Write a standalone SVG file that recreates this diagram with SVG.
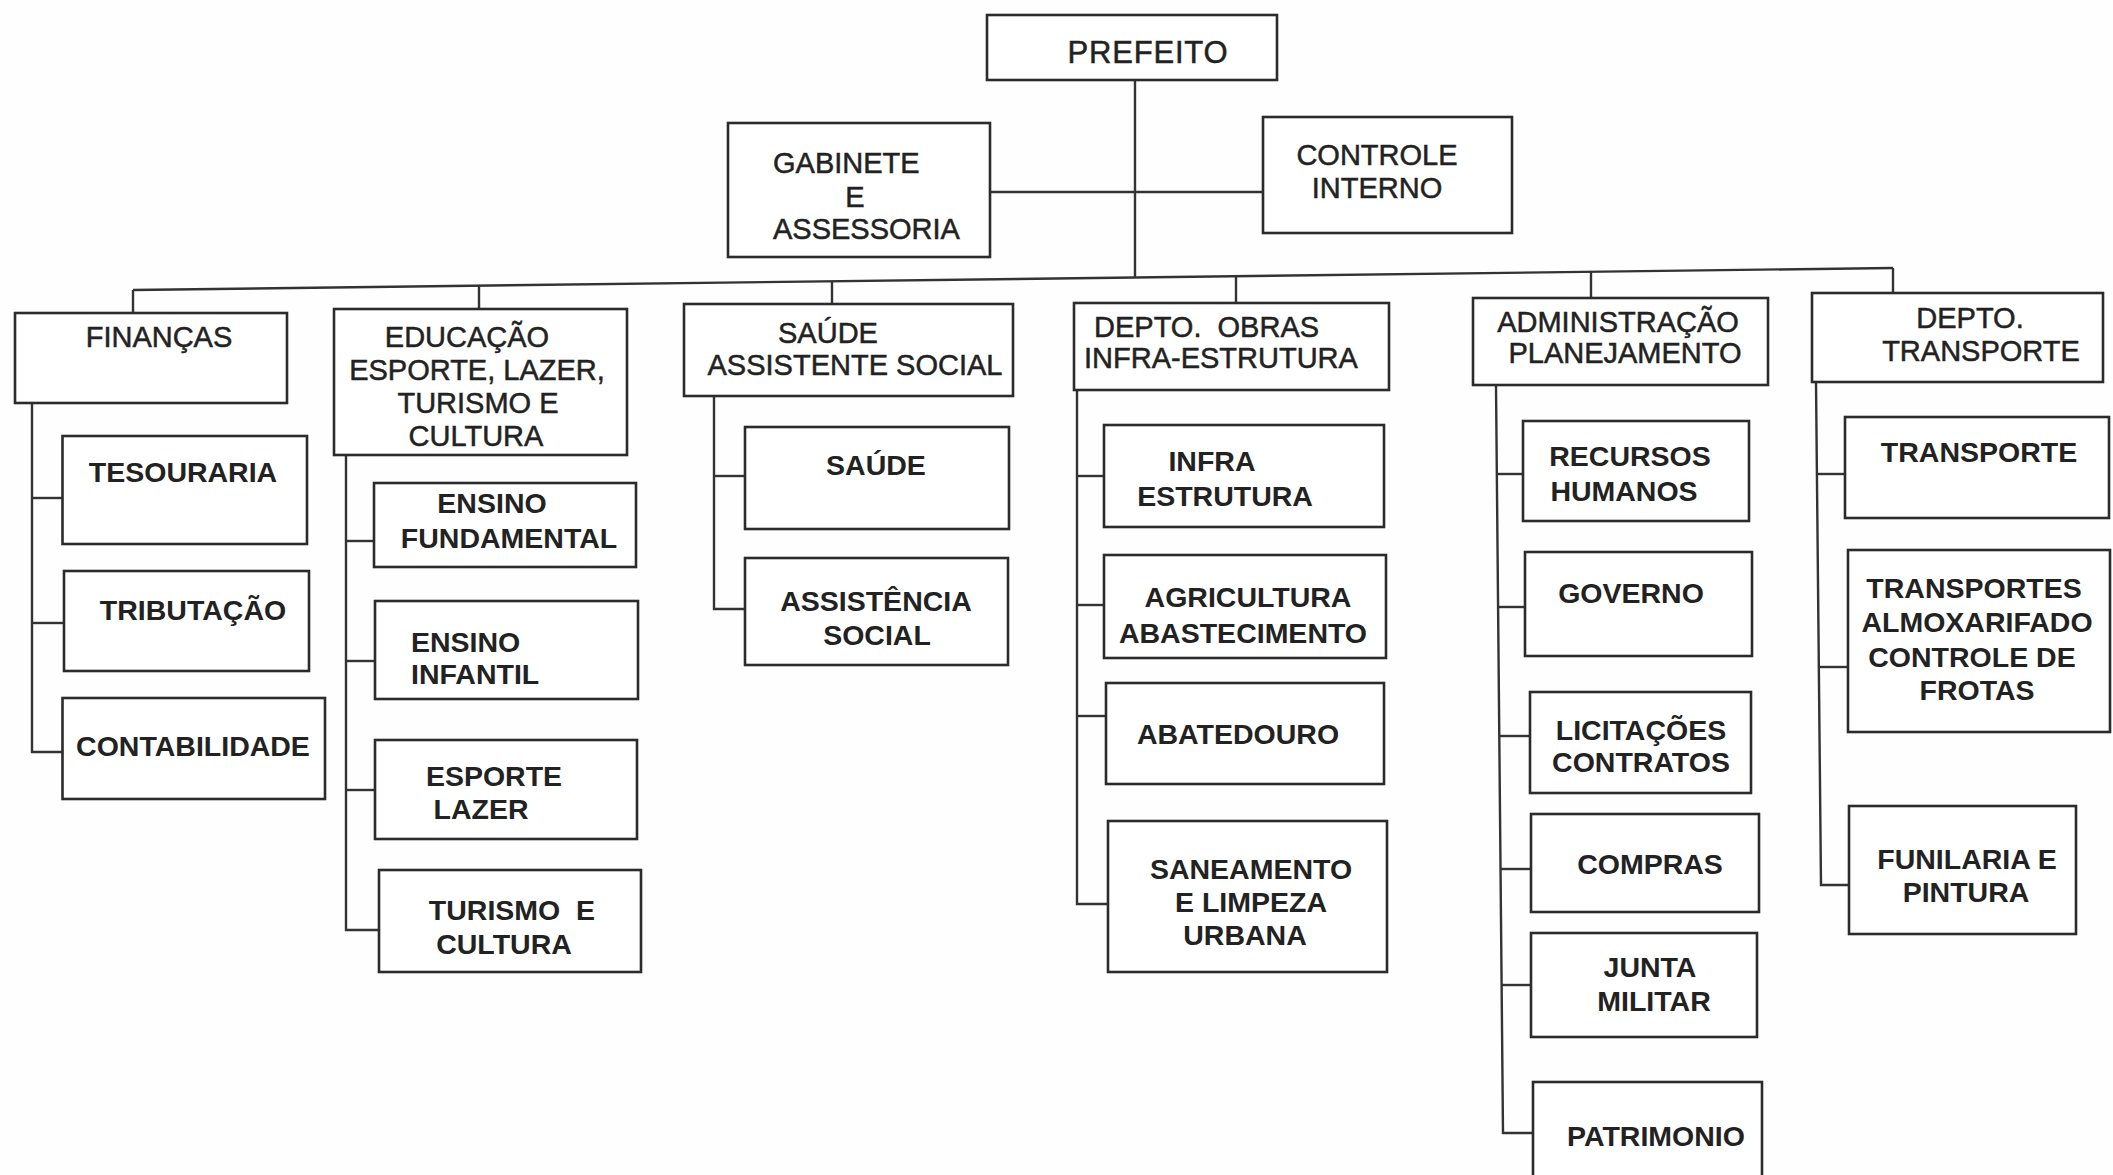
<svg xmlns="http://www.w3.org/2000/svg" width="2113" height="1175" viewBox="0 0 2113 1175">
<style>
.bg{fill:#fefefe}
rect.box{fill:#ffffff;stroke:#2b2b2b;stroke-width:2.6}
.c line,.c polyline{stroke:#333333;stroke-width:2.4;fill:none}
text{font-family:"Liberation Sans",Arial,sans-serif;font-size:29px;fill:#222222;stroke:#222222;stroke-width:0.5}
text.b{font-weight:bold;font-size:28.5px;stroke:none}
.m{text-anchor:middle}
</style>
<rect class="bg" x="0" y="0" width="2113" height="1175"/>
<g id="connectors" class="c">
  <line x1="1135" y1="80" x2="1135" y2="277.5"/>
  <line x1="990" y1="192" x2="1263" y2="192"/>
  <line x1="133" y1="290" x2="1893" y2="268"/>
  <line x1="133" y1="290" x2="133" y2="313"/>
  <line x1="479" y1="285.7" x2="479" y2="309"/>
  <line x1="832" y1="281.3" x2="832" y2="304"/>
  <line x1="1236" y1="276.2" x2="1236" y2="303"/>
  <line x1="1591" y1="271.8" x2="1591" y2="298"/>
  <line x1="1893" y1="268" x2="1893" y2="293"/>
  <!-- Finanças -->
  <polyline points="32,403 32,752 62.5,752"/>
  <line x1="32" y1="498" x2="62.5" y2="498"/>
  <line x1="32" y1="623" x2="64" y2="623"/>
  <!-- Educação -->
  <polyline points="346,455 346,930 379,930"/>
  <line x1="346" y1="541" x2="374" y2="541"/>
  <line x1="346" y1="661" x2="375" y2="661"/>
  <line x1="346" y1="790" x2="375" y2="790"/>
  <!-- Saúde -->
  <polyline points="714,396 714,609 745,609"/>
  <line x1="714" y1="476" x2="745" y2="476"/>
  <!-- Obras -->
  <polyline points="1077,390 1077,904 1108,904"/>
  <line x1="1077" y1="476" x2="1104" y2="476"/>
  <line x1="1077" y1="605" x2="1104" y2="605"/>
  <line x1="1077" y1="716" x2="1106" y2="716"/>
  <!-- Administração -->
  <polyline points="1496,385 1503,1133 1533,1133"/>
  <line x1="1497" y1="474" x2="1523" y2="474"/>
  <line x1="1498" y1="607" x2="1525" y2="607"/>
  <line x1="1499" y1="736" x2="1530" y2="736"/>
  <line x1="1501" y1="869" x2="1531" y2="869"/>
  <line x1="1502" y1="985" x2="1531" y2="985"/>
  <!-- Transporte -->
  <polyline points="1816,382 1821,885 1849,885"/>
  <line x1="1817" y1="474" x2="1845" y2="474"/>
  <line x1="1819" y1="667" x2="1848" y2="667"/>
</g>

<g id="prefeito"><rect class="box" x="987" y="15" width="290" height="65"/><text class="m" x="1148" y="63" style="font-size:31px;letter-spacing:0.8px">PREFEITO</text></g>
<g id="gabinete"><rect class="box" x="728" y="123" width="262" height="134"/>
  <text x="773" y="173">GABINETE</text><text class="m" x="855" y="207">E</text><text x="773" y="239">ASSESSORIA</text></g>
<g id="controle-interno"><rect class="box" x="1263" y="117" width="249" height="116"/>
  <text class="m" x="1377" y="165">CONTROLE</text><text class="m" x="1377" y="198">INTERNO</text></g>

<g id="financas"><rect class="box" x="15" y="313" width="272" height="90"/><text class="m" x="159" y="347">FINANÇAS</text></g>
<g id="educacao"><rect class="box" x="334" y="309" width="293" height="146"/>
  <text class="m" x="467" y="347">EDUCAÇÃO</text><text class="m" x="477" y="380">ESPORTE, LAZER,</text>
  <text class="m" x="478" y="413">TURISMO E</text><text class="m" x="476" y="446">CULTURA</text></g>
<g id="saude-assistente"><rect class="box" x="684" y="304" width="329" height="92"/>
  <text class="m" x="828" y="343">SAÚDE</text><text class="m" x="855" y="375">ASSISTENTE SOCIAL</text></g>
<g id="obras"><rect class="box" x="1074" y="303" width="315" height="87"/>
  <text x="1094" y="337" xml:space="preserve">DEPTO.  OBRAS</text><text x="1084" y="368">INFRA-ESTRUTURA</text></g>
<g id="administracao"><rect class="box" x="1473" y="298" width="295" height="87"/>
  <text class="m" x="1618" y="332">ADMINISTRAÇÃO</text><text class="m" x="1625" y="363">PLANEJAMENTO</text></g>
<g id="transporte-depto"><rect class="box" x="1812" y="293" width="291" height="89"/>
  <text class="m" x="1970" y="328">DEPTO.</text><text class="m" x="1981" y="361">TRANSPORTE</text></g>

<g id="tesouraria"><rect class="box" x="62.5" y="436" width="244.5" height="108"/><text class="b m" x="183" y="482">TESOURARIA</text></g>
<g id="tributacao"><rect class="box" x="64" y="571" width="245" height="100"/><text class="b m" x="193" y="620">TRIBUTAÇÃO</text></g>
<g id="contabilidade"><rect class="box" x="62.5" y="698" width="262.5" height="101"/><text class="b m" x="193" y="756">CONTABILIDADE</text></g>

<g id="ensino-fundamental"><rect class="box" x="374" y="483" width="262" height="84"/>
  <text class="b m" x="492" y="513">ENSINO</text><text class="b m" x="509" y="548">FUNDAMENTAL</text></g>
<g id="ensino-infantil"><rect class="box" x="375" y="601" width="263" height="98"/>
  <text class="b" x="411" y="652">ENSINO</text><text class="b" x="411" y="684">INFANTIL</text></g>
<g id="esporte-lazer"><rect class="box" x="375" y="740" width="262" height="99"/>
  <text class="b m" x="494" y="786">ESPORTE</text><text class="b m" x="481" y="819">LAZER</text></g>
<g id="turismo-cultura"><rect class="box" x="379" y="870" width="262" height="102"/>
  <text class="b m" x="512" y="920" xml:space="preserve">TURISMO  E</text><text class="b m" x="504" y="954">CULTURA</text></g>

<g id="saude"><rect class="box" x="745" y="427" width="264" height="102"/><text class="b m" x="876" y="475">SAÚDE</text></g>
<g id="assistencia-social"><rect class="box" x="745" y="558" width="263" height="107"/>
  <text class="b m" x="876" y="611">ASSISTÊNCIA</text><text class="b m" x="877" y="645">SOCIAL</text></g>

<g id="infra-estrutura"><rect class="box" x="1104" y="425" width="280" height="102"/>
  <text class="b m" x="1212" y="471">INFRA</text><text class="b m" x="1225" y="506">ESTRUTURA</text></g>
<g id="agricultura"><rect class="box" x="1104" y="555" width="282" height="103"/>
  <text class="b m" x="1248" y="607">AGRICULTURA</text><text class="b m" x="1243" y="643">ABASTECIMENTO</text></g>
<g id="abatedouro"><rect class="box" x="1106" y="683" width="278" height="101"/><text class="b m" x="1238" y="744">ABATEDOURO</text></g>
<g id="saneamento"><rect class="box" x="1108" y="821" width="279" height="151"/>
  <text class="b m" x="1251" y="879">SANEAMENTO</text><text class="b m" x="1251" y="912">E LIMPEZA</text><text class="b m" x="1245" y="945">URBANA</text></g>

<g id="recursos-humanos"><rect class="box" x="1523" y="421" width="226" height="100"/>
  <text class="b m" x="1630" y="466">RECURSOS</text><text class="b m" x="1624" y="501">HUMANOS</text></g>
<g id="governo"><rect class="box" x="1525" y="552" width="227" height="104"/><text class="b m" x="1631" y="603">GOVERNO</text></g>
<g id="licitacoes"><rect class="box" x="1530" y="692" width="221" height="101"/>
  <text class="b m" x="1641" y="740">LICITAÇÕES</text><text class="b m" x="1641" y="772">CONTRATOS</text></g>
<g id="compras"><rect class="box" x="1531" y="814" width="228" height="98"/><text class="b m" x="1650" y="874">COMPRAS</text></g>
<g id="junta-militar"><rect class="box" x="1531" y="933" width="226" height="104"/>
  <text class="b m" x="1650" y="977">JUNTA</text><text class="b m" x="1654" y="1011">MILITAR</text></g>
<g id="patrimonio"><rect class="box" x="1533" y="1082" width="229" height="110"/><text class="b m" x="1656" y="1146">PATRIMONIO</text></g>

<g id="transporte"><rect class="box" x="1845" y="417" width="264" height="101"/><text class="b m" x="1979" y="462">TRANSPORTE</text></g>
<g id="transportes-almoxarifado"><rect class="box" x="1848" y="550" width="262" height="182"/>
  <text class="b m" x="1974" y="598">TRANSPORTES</text><text class="b m" x="1977" y="632">ALMOXARIFADO</text>
  <text class="b m" x="1972" y="667">CONTROLE DE</text><text class="b m" x="1977" y="700">FROTAS</text></g>
<g id="funilaria"><rect class="box" x="1849" y="806" width="227" height="128"/>
  <text class="b m" x="1967" y="869">FUNILARIA E</text><text class="b m" x="1966" y="902">PINTURA</text></g>
</svg>
